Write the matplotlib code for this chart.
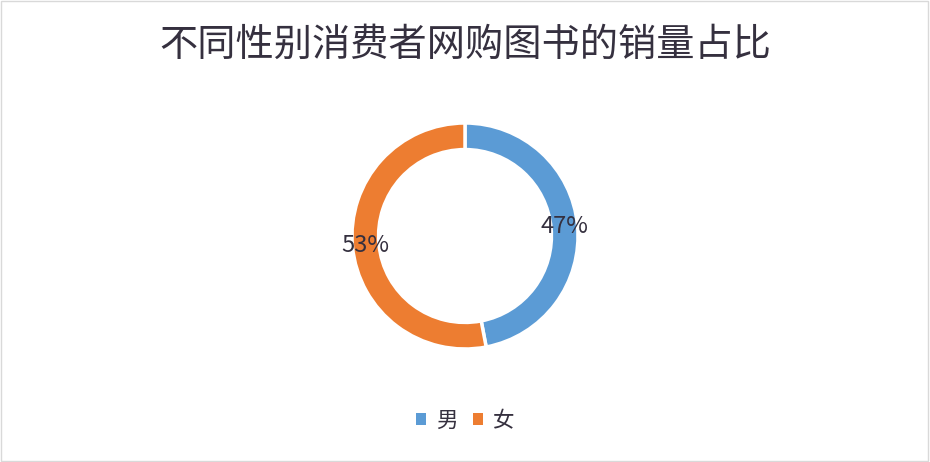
import numpy as np
import matplotlib.pyplot as plt
from matplotlib.patches import Rectangle

plt.rcParams['font.family'] = ['Noto Sans CJK SC', 'DejaVu Sans']

labels = ['男', '女']
shares = [47, 53]
colors = ['#5b9bd5', '#ed7d31']
title = '不同性别消费者网购图书的销量占比'

fig = plt.figure(figsize=(9.3, 4.62), dpi=100)
fig.patch.set_facecolor('white')
fig.patches.append(Rectangle((0.001, 0.002), 0.997, 0.995, transform=fig.transFigure,
                             fill=False, edgecolor='#d9d9d9', linewidth=1))

fig.text(0.5, 0.902, title, ha='center', va='center', fontsize=27.5,
         color='#35303f', fontweight='light')

# donut: centre (465, 236), outer radius about 113 px
ax = fig.add_axes([(465 - 113) / 930, 1 - (236 + 113) / 462, 226 / 930, 226 / 462])
wedges, texts = ax.pie(shares, colors=colors, startangle=90, counterclock=False,
                       radius=1.0,
                       wedgeprops=dict(width=0.235, edgecolor='white', linewidth=2.5))
ax.set_xlim(-1, 1)
ax.set_ylim(-1, 1)
ax.set_aspect('equal')

start = 90
for w, s in zip(wedges, shares):
    mid = start - s / 100 * 360 / 2
    start -= s / 100 * 360
    ang = np.deg2rad(mid)
    ax.text(0.885 * np.cos(ang), 0.885 * np.sin(ang), f'{s}%', ha='center', va='center',
            fontsize=17, color='#35303f')

# legend
handles = [Rectangle((0, 0), 1, 1, facecolor=c) for c in colors]
fig.legend(handles, labels, loc='center', bbox_to_anchor=(0.5, 1 - 421 / 462), ncol=2,
           frameon=False, fontsize=15.5, handlelength=0.47, handleheight=0.47,
           handletextpad=0.45, columnspacing=0.7, labelcolor='#35303f')

fig.savefig('out.png', dpi=100, facecolor='white')
